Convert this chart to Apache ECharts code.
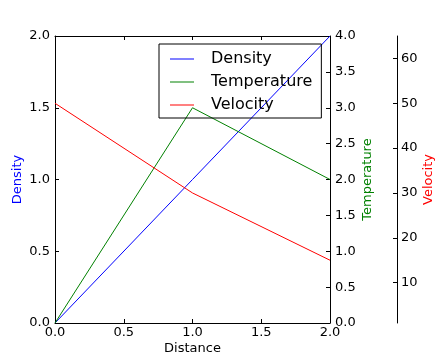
<!DOCTYPE html>
<html><head><meta charset="utf-8">
<script src="https://cdn.jsdelivr.net/npm/echarts@6/dist/echarts.min.js"></script>
<style>html,body{margin:0;padding:0;background:#fff}#c{width:440px;height:360px}</style>
</head><body><div id="c"></div>
<script>
const distance = [0, 1, 2];
const density = [0, 1, 2];
const temperature = [0, 3, 2];
const velocity = [50, 30, 15];
const velocityTicks = [10, 20, 30, 40, 50, 60];

const font = 'DejaVu Sans';
const black = '#000';
const fs = 13;
const tick = () => ({show: true, inside: true, length: 4, lineStyle: {color: black, width: 1}});
const axisLine = () => ({show: true, onZero: false, lineStyle: {color: black, width: 1}});
const fmt1 = v => v.toFixed(1);

const chart = echarts.init(document.getElementById('c'));
chart.setOption({
  animation: false,
  textStyle: {fontFamily: font},
  grid: {left: 55, right: 110, top: 36, bottom: 37, outerBoundsMode: 'none', containLabel: false},
  legend: {
    orient: 'vertical', left: 159, top: 44,
    data: ['Density', 'Temperature', 'Velocity'],
    icon: 'rect',
    borderColor: black, borderWidth: 1, borderRadius: 0,
    padding: [7, 9, 5, 11], itemGap: 7, itemWidth: 24, itemHeight: 1,
    textStyle: {fontFamily: font, fontSize: 16, color: black, padding: [0, 0, 0, 12]}
  },
  xAxis: [{
    type: 'value', min: 0, max: 2, interval: 0.5, position: 'bottom',
    name: 'Distance', nameLocation: 'middle', nameGap: 19, nameMoveOverlap: false,
    nameTextStyle: {fontFamily: font, fontSize: fs, color: black},
    axisLine: axisLine(),
    axisTick: tick(),
    axisLabel: {fontFamily: font, fontSize: fs, color: black, margin: 3, formatter: fmt1},
    splitLine: {show: false}
  }, {
    type: 'value', min: 0, max: 2, interval: 0.5, position: 'top',
    axisLine: axisLine(),
    axisTick: tick(), axisLabel: {show: false}, splitLine: {show: false}
  }],
  yAxis: [{
    type: 'value', min: 0, max: 2, interval: 0.5, position: 'left',
    name: 'Density', nameLocation: 'middle', nameGap: 31, nameRotate: 90, nameMoveOverlap: false,
    nameTextStyle: {fontFamily: font, fontSize: fs, color: '#0000ff'},
    axisLine: axisLine(),
    axisTick: tick(),
    axisLabel: {fontFamily: font, fontSize: fs, color: black, margin: 5, formatter: fmt1},
    splitLine: {show: false}
  }, {
    type: 'value', min: 0, max: 4, interval: 0.5, position: 'right',
    name: 'Temperature', nameLocation: 'middle', nameGap: 31, nameRotate: 90, nameMoveOverlap: false,
    nameTextStyle: {fontFamily: font, fontSize: fs, color: '#008000'},
    axisLine: axisLine(),
    axisTick: tick(),
    axisLabel: {fontFamily: font, fontSize: fs, color: black, margin: 5, formatter: fmt1},
    splitLine: {show: false}
  }, {
    type: 'value', min: 1, max: 65, position: 'right', offset: 67,
    name: 'Velocity', nameLocation: 'middle', nameGap: 25.5, nameRotate: 90, nameMoveOverlap: false,
    nameTextStyle: {fontFamily: font, fontSize: fs, color: '#ff0000'},
    axisLine: axisLine(),
    axisTick: Object.assign(tick(), {customValues: velocityTicks}),
    axisLabel: {fontFamily: font, fontSize: fs, color: black, margin: 4, customValues: velocityTicks},
    splitLine: {show: false}
  }],
  series: [{
    name: 'Density', type: 'line', xAxisIndex: 0, yAxisIndex: 0, symbol: 'none',
    lineStyle: {color: '#0000ff', width: 1}, itemStyle: {color: '#0000ff'},
    data: distance.map((d, i) => [d, density[i]])
  }, {
    name: 'Temperature', type: 'line', xAxisIndex: 0, yAxisIndex: 1, symbol: 'none',
    lineStyle: {color: '#008000', width: 1}, itemStyle: {color: '#008000'},
    data: distance.map((d, i) => [d, temperature[i]])
  }, {
    name: 'Velocity', type: 'line', xAxisIndex: 0, yAxisIndex: 2, symbol: 'none',
    lineStyle: {color: '#ff0000', width: 1}, itemStyle: {color: '#ff0000'},
    data: distance.map((d, i) => [d, velocity[i]])
  }]
});
</script>
</body></html>
